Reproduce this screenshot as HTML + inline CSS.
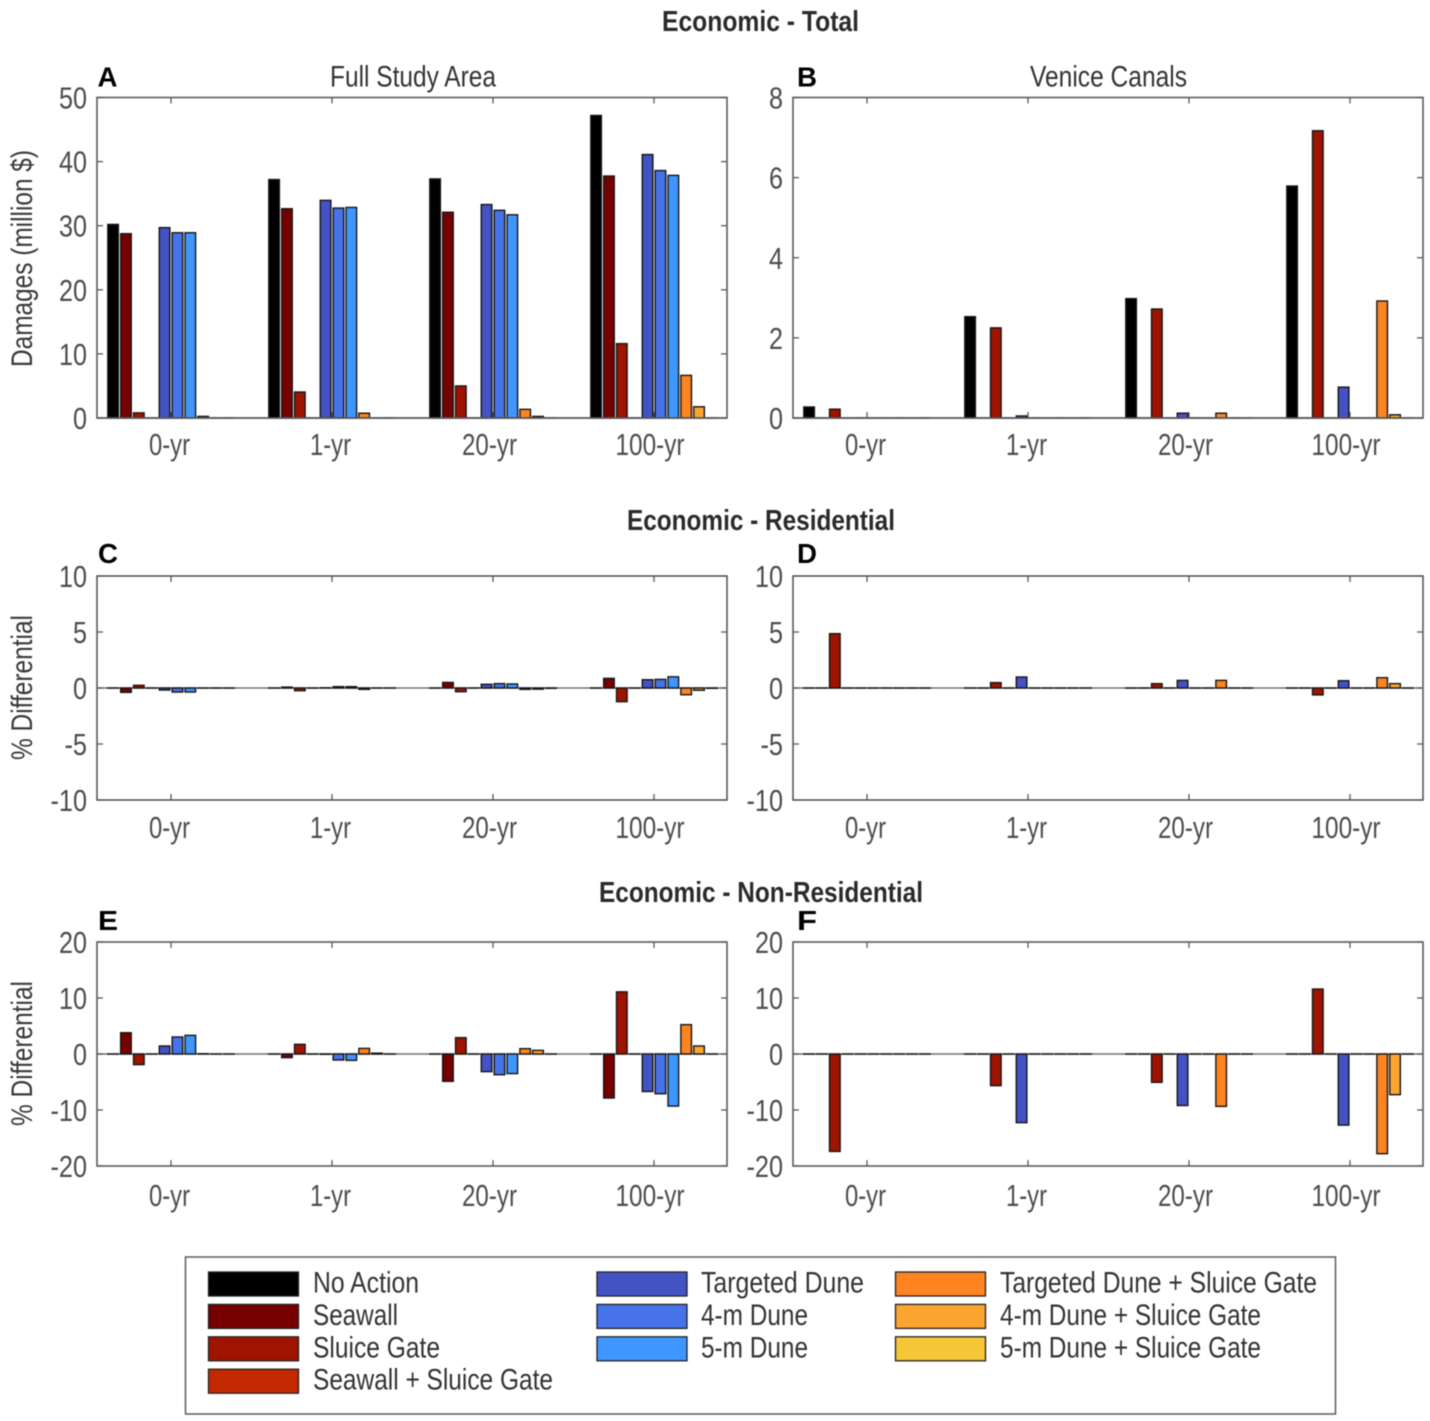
<!DOCTYPE html>
<html>
<head>
<meta charset="utf-8">
<title>Economic damages chart</title>
<style>
html,body{margin:0;padding:0;background:#fff;width:1430px;height:1421px;overflow:hidden}
svg{display:block;filter:blur(0.45px)}
text{font-family:"Liberation Sans",Arial,sans-serif}
</style>
</head>
<body>
<svg id="figure" width="1430" height="1421" viewBox="0 0 1430 1421" xmlns="http://www.w3.org/2000/svg"></svg>
<script>
// ---- Data ----
const categories = ['0-yr', '1-yr', '20-yr', '100-yr'];
const seriesNames = ['No Action', 'Seawall', 'Sluice Gate', 'Seawall + Sluice Gate', 'Targeted Dune', '4-m Dune', '5-m Dune', 'Targeted Dune + Sluice Gate', '4-m Dune + Sluice Gate', '5-m Dune + Sluice Gate'];
const seriesColors = ['#000000', '#760000', '#9e1400', '#c32800', '#4353c4', '#4673ea', '#3e96fe', '#fd8420', '#fba530', '#f5c638'];

const ticksTotalArea = [0, 10, 20, 30, 40, 50];
const ticksTotalCanals = [0, 2, 4, 6, 8];
const ticksResidential = [-10, -5, 0, 5, 10];
const ticksNonResidential = [-20, -10, 0, 10, 20];

// one row per return period, one column per series
const valuesA = [
  [30.2, 28.75, 0.8, 0, 29.7, 28.9, 28.9, 0.25, 0, 0],
  [37.2, 32.65, 4.05, 0, 33.95, 32.75, 32.85, 0.75, 0, 0],
  [37.3, 32.1, 5.0, 0, 33.3, 32.4, 31.7, 1.35, 0.25, 0],
  [47.2, 37.75, 11.6, 0, 41.1, 38.6, 37.85, 6.65, 1.75, 0]
];
const valuesB = [
  [0.275, 0, 0.22, 0, 0, 0, 0, 0, 0, 0],
  [2.53, 0, 2.25, 0, 0.05, 0, 0, 0, 0, 0],
  [2.98, 0, 2.72, 0, 0.12, 0, 0, 0.12, 0, 0],
  [5.79, 0, 7.17, 0, 0.77, 0, 0, 2.92, 0.08, 0]
];
const valuesC = [
  [0, -0.39, 0.24, 0, -0.18, -0.36, -0.36, 0, 0, 0],
  [0, 0.08, -0.24, 0, 0.02, 0.12, 0.12, -0.12, 0, 0],
  [0, 0.5, -0.33, 0, 0.33, 0.39, 0.36, -0.12, -0.1, -0.03],
  [0, 0.86, -1.22, 0, 0.74, 0.77, 1.0, -0.6, -0.2, -0.03]
];
const valuesD = [
  [0, 0, 4.85, 0, 0, 0, 0, 0, 0, 0],
  [0, 0, 0.48, 0, 0.98, 0, 0, 0, 0, 0],
  [0, 0, 0.39, 0, 0.68, 0, 0, 0.68, 0, 0],
  [0, 0, -0.62, 0, 0.65, 0, 0, 0.92, 0.39, 0]
];
const valuesE = [
  [0, 3.8, -1.9, 0, 1.43, 3.04, 3.33, 0.05, 0, 0],
  [0, -0.65, 1.73, 0, -0.05, -1.07, -1.13, 1.0, 0.15, 0],
  [0, -4.88, 2.92, 0, -3.15, -3.7, -3.5, 0.95, 0.65, 0],
  [0, -7.86, 11.1, 0, -6.7, -7.1, -9.3, 5.24, 1.43, 0]
];
const valuesF = [
  [0, 0, -17.4, 0, 0, 0, 0, 0, 0, 0],
  [0, 0, -5.65, 0, -12.26, 0, 0, 0, 0, 0],
  [0, 0, -5.06, 0, -9.2, 0, 0, -9.35, 0, 0],
  [0, 0, 11.6, 0, -12.7, 0, 0, -17.8, -7.26, 0]
];

// ---- Drawing ----
const NS = 'http://www.w3.org/2000/svg';
const root = document.getElementById('figure');
const TICK_INK = '#4c4c4c';
const TEXT_INK = '#333333';

function make(tag, parent, attrs) {
  const el = document.createElementNS(NS, tag);
  for (const k in attrs) el.setAttribute(k, attrs[k]);
  parent.appendChild(el);
  return el;
}
function label(parent, str, x, y, opts) {
  const o = opts || {};
  const el = make('text', parent, {
    x: x, y: y,
    'font-size': o.size || 30,
    'font-weight': o.weight || 'normal',
    fill: o.fill || TEXT_INK,
    'text-anchor': o.anchor || 'start'
  });
  if (o.width) {
    el.setAttribute('textLength', o.width);
    el.setAttribute('lengthAdjust', 'spacingAndGlyphs');
  }
  if (o.rotate) el.setAttribute('transform', 'rotate(-90 ' + x + ' ' + y + ')');
  el.textContent = str;
  return el;
}
function numberWidth(str) {
  let w = 0;
  for (const c of str) w += /[0-9]/.test(c) ? 14 : 8.5;
  return w;
}

function drawPanel(cfg) {
  const g = make('g', root, {});
  
  

  const groupStep = 161, barStep = 12.87, barWidth = 10.6;
  const xCenter = i => cfg.left + 74 + groupStep * i;
  const xBar = (i, s) => xCenter(i) + (s - (seriesNames.length - 1) / 2) * barStep;
  const yScale = v => cfg.bottom - (v - cfg.min) / (cfg.max - cfg.min) * (cfg.bottom - cfg.top);
  const right = cfg.left + 630;

  // plot background
  const bg = make('rect', g, {x: cfg.left, y: cfg.top, width: 630, height: cfg.bottom - cfg.top, fill: '#fff'});
  
  

  // zero baseline
  const base = make('line', g, {x1: cfg.left, x2: right, y1: yScale(0), y2: yScale(0), stroke: '#707070', 'stroke-width': 1.4});
  
  

  // bars (zero-valued bars still draw as a flat outlined dash)
  cfg.values.forEach((row, i) => {
    row.forEach((v, s) => {
      const y0 = yScale(0), y1 = yScale(v);
      const bar = make('rect', g, {
        x: xBar(i, s) - barWidth / 2,
        y: Math.min(y0, y1),
        width: barWidth,
        height: Math.max(Math.abs(y1 - y0), 0.05),
        fill: seriesColors[s],
        stroke: '#161616',
        'stroke-width': 1.4
      });
      
      
    });
  });

  // box
  const box = make('rect', g, {x: cfg.left, y: cfg.top, width: 630, height: cfg.bottom - cfg.top, fill: 'none', stroke: '#5a5a5a', 'stroke-width': 1.6});
  
  

  // x ticks & labels
  const labelShift = [-1.5, -1.5, -3.5, -4];
  categories.forEach((c, i) => {
    const x = xCenter(i);
    make('line', g, {x1: x, x2: x, y1: cfg.top, y2: cfg.top + 6, stroke: '#5a5a5a', 'stroke-width': 1.3});
    make('line', g, {x1: x, x2: x, y1: cfg.bottom, y2: cfg.bottom - 6, stroke: '#5a5a5a', 'stroke-width': 1.3});
    const t = label(g, c, x + labelShift[i], cfg.bottom + cfg.xLabelGap, {anchor: 'middle', fill: TICK_INK, size: 31, width: numberWidth(c.replace('yr', '')) + 18.5});
    
    
  });

  // y ticks & labels
  cfg.ticks.forEach(v => {
    const y = yScale(v);
    make('line', g, {x1: cfg.left, x2: cfg.left + 6, y1: y, y2: y, stroke: '#5a5a5a', 'stroke-width': 1.3});
    make('line', g, {x1: right, x2: right - 6, y1: y, y2: y, stroke: '#5a5a5a', 'stroke-width': 1.3});
    const str = String(v);
    const t = label(g, str, cfg.left - 10, y + 11, {anchor: 'end', fill: TICK_INK, size: 31, width: numberWidth(str)});
    
    
  });

  // panel letter
  const letter = label(g, cfg.id, cfg.letterX, cfg.letterY, {weight: 'bold', size: 28, fill: '#000', width: 20});
  
  

  if (cfg.title) {
    const t = label(g, cfg.title, cfg.titleX, cfg.top - 11, {width: cfg.titleW});
    
    
  }
  if (cfg.yTitle) {
    const t = label(g, cfg.yTitle, 32, cfg.yTitleStart, {rotate: true, width: cfg.yTitleLen, fill: '#3a3a3a', size: 30});
    
    
  }
}

drawPanel({id: 'A', left: 97, top: 97.5, bottom: 418, min: 0, max: 50, ticks: ticksTotalArea, values: valuesA, xLabelGap: 37, letterX: 97.5, letterY: 86.5, title: 'Full Study Area', titleX: 330, titleW: 166, yTitle: 'Damages (million $)', yTitleStart: 367, yTitleLen: 217});
drawPanel({id: 'B', left: 793, top: 97.5, bottom: 418, min: 0, max: 8, ticks: ticksTotalCanals, values: valuesB, xLabelGap: 37, letterX: 797, letterY: 86.5, title: 'Venice Canals', titleX: 1030, titleW: 157});
drawPanel({id: 'C', left: 97, top: 576, bottom: 800, min: -10, max: 10, ticks: ticksResidential, values: valuesC, xLabelGap: 38, letterX: 98, letterY: 563, yTitle: '% Differential', yTitleStart: 760, yTitleLen: 145});
drawPanel({id: 'D', left: 793, top: 576, bottom: 800, min: -10, max: 10, ticks: ticksResidential, values: valuesD, xLabelGap: 38, letterX: 797, letterY: 563});
drawPanel({id: 'E', left: 97, top: 942, bottom: 1166, min: -20, max: 20, ticks: ticksNonResidential, values: valuesE, xLabelGap: 40, letterX: 98, letterY: 930, yTitle: '% Differential', yTitleStart: 1126, yTitleLen: 145});
drawPanel({id: 'F', left: 793, top: 942, bottom: 1166, min: -20, max: 20, ticks: ticksNonResidential, values: valuesF, xLabelGap: 40, letterX: 797, letterY: 930});

// section headings
const heading1 = label(root, 'Economic - Total', 662, 31, {weight: 'bold', size: 29, fill: '#2a2a2a', width: 197});


const heading2 = label(root, 'Economic - Residential', 627, 530, {weight: 'bold', size: 29, fill: '#2a2a2a', width: 268});


const heading3 = label(root, 'Economic - Non-Residential', 599, 902, {weight: 'bold', size: 29, fill: '#2a2a2a', width: 324});



// legend
const legend = make('g', root, {});


const legendBox = make('rect', legend, {x: 185.5, y: 1257, width: 1150, height: 157, fill: '#fff', stroke: '#5a5a5a', 'stroke-width': 1.5});



const legendTextWidths = [106, 85, 127, 240, 163, 107, 107, 317, 261, 261];
seriesNames.forEach((name, s) => {
  const col = s < 4 ? 0 : s < 7 ? 1 : 2;
  const row = s < 4 ? s : s < 7 ? s - 4 : s - 7;
  const sx = [208.5, 597, 895.5][col];
  const tx = [313, 701, 1000][col];
  const y = 1272 + row * 32.4;
  const swatch = make('rect', legend, {x: sx, y: y, width: 90, height: 24, fill: seriesColors[s], stroke: '#222222', 'stroke-width': 1.3});
  
  
  const t = label(legend, name, tx, y + 20.5, {width: legendTextWidths[s], size: 30});
  
  
});
</script>
</body>
</html>
